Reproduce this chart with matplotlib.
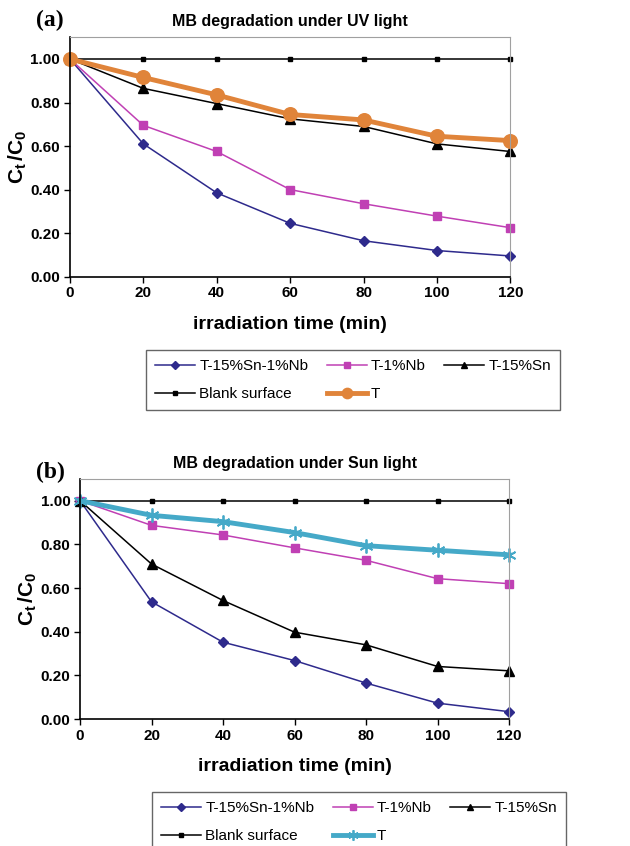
import matplotlib.pyplot as plt
import numpy as np

# irradiation time (min)
time = [0, 20, 40, 60, 80, 100, 120]

# panel (a): UV light
uv_snnb = [1.00, 0.61, 0.385, 0.245, 0.165, 0.12, 0.095]
uv_nb = [1.00, 0.695, 0.575, 0.40, 0.335, 0.278, 0.225]
uv_sn = [1.00, 0.865, 0.795, 0.725, 0.69, 0.61, 0.575]
uv_blank = [1.00, 1.00, 1.00, 1.00, 1.00, 1.00, 1.00]
uv_t = [1.00, 0.915, 0.835, 0.745, 0.72, 0.645, 0.625]

# panel (b): Sun light
sun_snnb = [1.00, 0.537, 0.352, 0.268, 0.165, 0.073, 0.034]
sun_nb = [1.00, 0.887, 0.843, 0.784, 0.727, 0.643, 0.620]
sun_sn = [1.00, 0.710, 0.543, 0.398, 0.340, 0.241, 0.221]
sun_blank = [1.00, 1.00, 1.00, 1.00, 1.00, 1.00, 1.00]
sun_t = [1.00, 0.933, 0.904, 0.854, 0.794, 0.773, 0.752]

labels = ["T-15%Sn-1%Nb", "T-1%Nb", "T-15%Sn", "Blank surface", "T"]
yticks = [0.0, 0.2, 0.4, 0.6, 0.8, 1.0]
xticks = [0, 20, 40, 60, 80, 100, 120]

BOLD = "Liberation Sans"
NAVY = "#2E2A8C"
MAGENTA = "#C040B4"
ORANGE = "#E0843A"
CYAN = "#45A9C8"


def draw_panel(ax, snnb, nb, sn, blank, t, t_color, t_marker, t_ms, title):
    h1, = ax.plot(time, snnb, color=NAVY, marker="D", ms=5, lw=1.1, clip_on=False)
    h2, = ax.plot(time, nb, color=MAGENTA, marker="s", ms=6, lw=1.1, clip_on=False)
    h3, = ax.plot(time, sn, color="black", marker="^", ms=6.5, lw=1.1, clip_on=False)
    h4, = ax.plot(time, blank, color="black", marker="s", ms=3, lw=1.1, clip_on=False)
    h5, = ax.plot(time, t, color=t_color, marker=t_marker, ms=t_ms, mew=1.3,
                  lw=3.5, clip_on=False)
    ax.set_xlim(0, 120)
    ax.set_ylim(0, 1.1)
    ax.set_xticks(xticks)
    ax.set_yticks(yticks)
    ax.set_yticklabels([f"{v:.2f}" for v in yticks])
    for lab in ax.get_xticklabels() + ax.get_yticklabels():
        lab.set_fontfamily(BOLD)
        lab.set_fontweight("bold")
        lab.set_fontsize(11)
    ax.tick_params(length=4, width=1, direction="out", pad=3)
    ax.spines["top"].set_color("#A0A0A0")
    ax.spines["right"].set_color("#A0A0A0")
    ax.spines["top"].set_linewidth(0.8)
    ax.spines["right"].set_linewidth(0.8)
    ax.spines["left"].set_linewidth(1.2)
    ax.spines["bottom"].set_linewidth(1.2)
    ax.set_xlabel("irradiation time (min)", fontfamily=BOLD, fontweight="bold",
                  fontsize=14, labelpad=11)
    ax.set_ylabel(r"$\mathbf{C_t\,/C_0}$", fontfamily=BOLD, fontsize=15, labelpad=1)
    ax.set_title(title, fontfamily=BOLD, fontweight="bold", fontsize=11.5, pad=8)
    return [h1, h4, h2, h5, h3]


plt.rcParams["mathtext.fontset"] = "custom"
plt.rcParams["mathtext.bf"] = "Liberation Sans:bold"
plt.rcParams["mathtext.rm"] = "Liberation Sans"
plt.rcParams["mathtext.it"] = "Liberation Sans:italic"

fig = plt.figure(figsize=(6.3, 8.46), dpi=100)
ax1 = fig.add_axes([0.111, 0.673, 0.699, 0.283])
ax2 = fig.add_axes([0.127, 0.150, 0.681, 0.284])

handles_a = draw_panel(ax1, uv_snnb, uv_nb, uv_sn, uv_blank, uv_t, ORANGE, "o", 9.5,
                       "MB degradation under UV light")
handles_b = draw_panel(ax2, sun_snnb, sun_nb, sun_sn, sun_blank, sun_t, CYAN, (6, 2, 0), 10,
                       "MB degradation under Sun light")

order = [labels[0], labels[3], labels[1], labels[4], labels[2]]
leg_kw = dict(ncol=3, frameon=True, fancybox=False, edgecolor="#404040",
              prop={"family": "Liberation Sans", "size": 11}, handlelength=2.6,
              columnspacing=1.2, handletextpad=0.3, borderpad=0.6, labelspacing=0.9,
              markerscale=0.75, borderaxespad=0)
leg1 = fig.legend(handles_a, order, loc="upper left", bbox_to_anchor=(146 / 630, 1 - 350 / 846),
                  **leg_kw)
leg2 = fig.legend(handles_b, order, loc="upper left", bbox_to_anchor=(152 / 630, 1 - 792 / 846),
                  **leg_kw)
for leg in (leg1, leg2):
    leg.get_frame().set_linewidth(1.0)

fig.text(0.057, 0.976, "(a)", fontfamily="Liberation Serif", fontweight="bold",
         fontsize=17, va="center")
fig.text(0.057, 1 - 472 / 846, "(b)", fontfamily="Liberation Serif", fontweight="bold",
         fontsize=17, va="center")

fig.savefig("out.png", dpi=100)
